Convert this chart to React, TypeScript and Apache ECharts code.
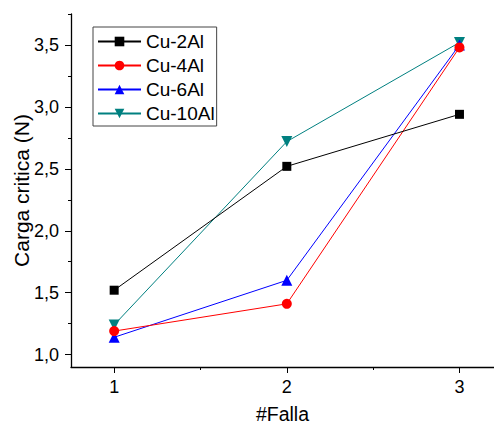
import React, { useEffect, useRef } from "react";
import * as echarts from "echarts";

const fallas = [1, 2, 3];
const cu2Al = [1.52, 2.52, 2.94];
const cu4Al = [1.19, 1.41, 3.48];
const cu6Al = [1.14, 1.6, 3.5];
const cu10Al = [1.24, 2.72, 3.52];
const seriesNames = ["Cu-2Al", "Cu-4Al", "Cu-6Al", "Cu-10Al"];
const xMajor = [1, 2, 3];
const xMinor = [1.5, 2.5];
const yMajor = [1, 1.5, 2, 2.5, 3, 3.5];
const yMinor = [1.25, 1.75, 2.25, 2.75, 3.25, 3.75];

const FONT = "Liberation Sans, Arial, sans-serif";

export default function App() {
  const ref = useRef<HTMLDivElement>(null);
  useEffect(() => {
    if (!ref.current) return;
    const chart = echarts.init(ref.current, null, { renderer: "svg" });
    const mk = (vals: number[]) => fallas.map((x, i) => [x, vals[i]]);
    const colors = ["#000000", "#ff0000", "#0000ff", "#008080"];
    const symbols = ["rect", "circle", "triangle", "triangle"];
    const rot = [0, 0, 0, 180];
    const sizes = [9, 10, 11, 11];
    const all = [cu2Al, cu4Al, cu6Al, cu10Al];
    const xBase = { type: "value", min: 0.75, max: 3.2, splitLine: { show: false } };
    const yBase = { type: "value", min: 0.9, max: 3.75, splitLine: { show: false } };
    chart.setOption({
      animation: false,
      textStyle: { fontFamily: FONT },
      grid: { left: 71, right: 0, top: 14, bottom: 60, containLabel: false, outerBoundsMode: "none" },
      legend: {
        left: 93,
        top: 27,
        orient: "vertical",
        data: seriesNames,
        itemWidth: 43,
        itemHeight: 12,
        itemGap: 5,
        padding: [5, 2, 3, 4],
        borderColor: "#444",
        borderWidth: 1,
        textStyle: { fontSize: 19, color: "#000", fontFamily: FONT },
      },
      xAxis: [
        {
          ...xBase,
          position: "bottom",
          name: "#Falla",
          nameLocation: "middle",
          nameGap: 37,
          nameMoveOverlap: false,
          nameTextStyle: { fontSize: 19.5, color: "#000", fontFamily: FONT },
          axisLine: { lineStyle: { color: "#000", width: 1.3 } },
          axisTick: { customValues: xMajor, length: 6, lineStyle: { color: "#000" } },
          axisLabel: { customValues: xMajor, fontSize: 18, color: "#000", margin: 11, fontFamily: FONT },
        },
        {
          ...xBase,
          position: "bottom",
          axisLine: { show: false },
          axisTick: { customValues: xMinor, length: 3, lineStyle: { color: "#000" } },
          axisLabel: { show: false },
        },
      ],
      yAxis: [
        {
          ...yBase,
          position: "left",
          name: "Carga critica (N)",
          nameLocation: "middle",
          nameGap: 39,
          nameMoveOverlap: false,
          nameTextStyle: { fontSize: 21, color: "#000", fontFamily: FONT },
          axisLine: { show: true, lineStyle: { color: "#000", width: 1.3 } },
          axisTick: { show: true, customValues: yMajor, length: 6, lineStyle: { color: "#000" } },
          axisLabel: {
            customValues: yMajor,
            fontSize: 18,
            color: "#000",
            margin: 12,
            fontFamily: FONT,
            formatter: (v: number) => v.toFixed(1).replace(".", ","),
          },
        },
        {
          ...yBase,
          position: "left",
          axisLine: { show: false },
          axisTick: { show: true, customValues: yMinor, length: 3, lineStyle: { color: "#000" } },
          axisLabel: { show: false },
        },
      ],
      series: seriesNames.map((name, i) => ({
        name,
        type: "line",
        xAxisIndex: 0,
        yAxisIndex: 0,
        data: mk(all[i]),
        symbol: symbols[i],
        symbolSize: sizes[i],
        symbolRotate: rot[i],
        showAllSymbol: true,
        lineStyle: { color: colors[i], width: 1 },
        itemStyle: { color: colors[i] },
        z: 10 - i,
      })),
    });
    return () => chart.dispose();
  }, []);
  return (
    <div
      ref={ref}
      style={{ position: "fixed", left: 0, top: 0, width: 494, height: 427, background: "#fff" }}
    />
  );
}
